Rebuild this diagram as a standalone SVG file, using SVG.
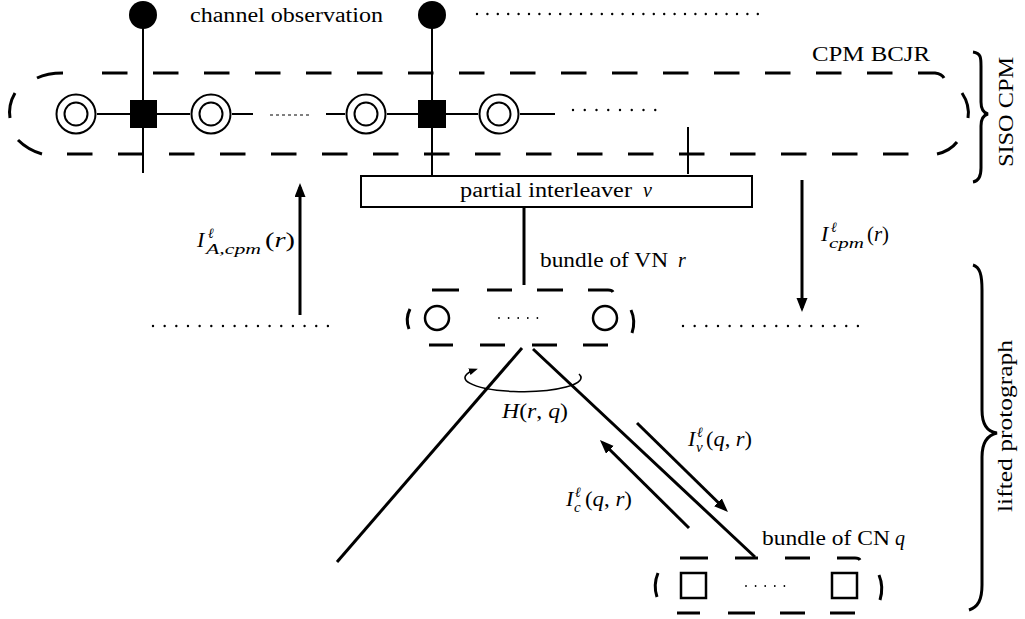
<svg xmlns="http://www.w3.org/2000/svg" width="1025" height="619" viewBox="0 0 1025 619">
<style>
.t{font-family:"Liberation Serif","Times New Roman",serif;font-size:20px;fill:#000}
.m{font-family:"Liberation Serif","Times New Roman",serif;font-style:italic;fill:#000}
.thin{stroke:#000;stroke-width:2;fill:none}
.thick{stroke:#000;stroke-width:3;fill:none}
.dash{stroke:#000;stroke-width:3;fill:none;stroke-dasharray:25.5 25.5}
.dots{stroke:#000;stroke-width:2.4;fill:none;stroke-linecap:round}
.sdots{stroke:#000;stroke-width:1.8;fill:none;stroke-linecap:round;stroke-dasharray:0 9.6}
</style>
<defs>
<marker id="ah" markerUnits="userSpaceOnUse" markerWidth="16" markerHeight="12" refX="10" refY="5.5" orient="auto">
<path d="M0,0 L14,5.5 L0,11 z" fill="#000"/>
</marker>
<marker id="ahs" markerUnits="userSpaceOnUse" markerWidth="10" markerHeight="8" refX="6" refY="3.5" orient="auto">
<path d="M0,0 L9,3.5 L0,7 z" fill="#000"/>
</marker>
</defs>
<rect width="1025" height="619" fill="#fff"/>

<g id="connectors">
<line class="thin" x1="143" y1="28" x2="143" y2="173"/>
<line class="thin" x1="432" y1="28" x2="432" y2="176"/>
<line class="thin" x1="688" y1="127" x2="688" y2="174"/>
<path class="thin" d="M97 114H130M157 114H190M232 114H253M326 114H345M387 114H418M446 114H478M520 114H555"/>
<line x1="270" y1="115" x2="312" y2="115" stroke="#000" stroke-width="1" stroke-dasharray="3 3"/>
<line class="dots" x1="573" y1="110" x2="667" y2="110" stroke-dasharray="0 11.75"/>
<line class="dots" x1="477" y1="14" x2="758" y2="14" stroke-dasharray="0 10.4"/>
<line class="thick" x1="524" y1="207" x2="524" y2="285" stroke-width="2.5"/>
<line class="thick" x1="300" y1="315" x2="300" y2="187" marker-end="url(#ah)"/>
<line class="thick" x1="802" y1="180" x2="802" y2="308" marker-end="url(#ah)"/>
<line class="dots" x1="153" y1="326" x2="328" y2="326" stroke-dasharray="0 11.66"/>
<line class="dots" x1="683" y1="326" x2="858" y2="326" stroke-dasharray="0 11.66"/>
<line class="thick" x1="522" y1="348" x2="337" y2="562"/>
<line class="thick" x1="533" y1="349" x2="755" y2="557"/>
<path d="M579 374 A58 14 0 1 1 475 369.8" stroke="#000" stroke-width="1.6" fill="none" marker-end="url(#ahs)"/>
<line class="thick" x1="637" y1="423" x2="725.1" y2="509.2" marker-end="url(#ah)"/>
<line class="thick" x1="689" y1="528" x2="602.8" y2="442.8" marker-end="url(#ah)"/>
</g>

<g id="cpm-bcjr">
<line class="dash" x1="102" y1="73" x2="893" y2="73"/>
<path class="thick" d="M37 78Q47 73 63 73"/>
<path class="thick" d="M918 73H935Q942 74 944 78"/>
<path class="thick" d="M15 93Q8 105 10 118"/>
<path class="thick" d="M18 140Q28 150 42 154"/>
<line class="dash" x1="67" y1="154" x2="909" y2="154"/>
<path class="thick" d="M937 154Q950 151 957 142"/>
<path class="thick" d="M962 93Q970 105 968 118"/>
<text class="t" x="812" y="61" textLength="118" lengthAdjust="spacingAndGlyphs">CPM BCJR</text>
</g>

<g id="obs1"><circle cx="143" cy="15" r="14" fill="#000"/></g>
<g id="obs2"><circle cx="432" cy="15" r="14" fill="#000"/></g>
<text class="t" x="190" y="22" textLength="193" lengthAdjust="spacingAndGlyphs">channel observation</text>

<g id="s1"><circle cx="76" cy="114" r="19.5" class="thin"/><circle cx="76" cy="114" r="11.5" class="thin"/></g>
<g id="f1"><rect x="130" y="100" width="27" height="28" fill="#000"/></g>
<g id="s2"><circle cx="211" cy="114" r="19.5" class="thin"/><circle cx="211" cy="114" r="11.5" class="thin"/></g>
<g id="s3"><circle cx="366" cy="114" r="19.5" class="thin"/><circle cx="366" cy="114" r="11.5" class="thin"/></g>
<g id="f2"><rect x="418" y="100" width="28" height="28" fill="#000"/></g>
<g id="s4"><circle cx="499" cy="114" r="19.5" class="thin"/><circle cx="499" cy="114" r="11.5" class="thin"/></g>

<g id="interleaver">
<rect x="361" y="176" width="391" height="31" class="thin"/>
<text class="t" x="460" y="197" textLength="172" lengthAdjust="spacingAndGlyphs">partial interleaver</text>
<text class="m" x="643" y="197" font-size="20">v</text>
</g>

<g id="vn-bundle">
<path class="thick" d="M432 290H459M487 290H512M537 290H563M588 290H608Q612 290 613 292"/>
<path class="thick" d="M429 345H453M480 345H505M532 345H557M583 345H608"/>
<path class="thick" d="M410 309Q405 319 409 329"/>
<path class="thick" d="M631 310Q636 321 632 333"/>
<circle cx="437" cy="318" r="12" stroke="#000" stroke-width="2.5" fill="none"/>
<circle cx="605" cy="318" r="12" stroke="#000" stroke-width="2.5" fill="none"/>
<line class="sdots" x1="499" y1="318" x2="538" y2="318"/>
<text class="t" x="540" y="267" textLength="128" lengthAdjust="spacingAndGlyphs">bundle of VN</text>
<text class="m" x="678" y="267" font-size="20">r</text>
</g>

<g id="cn-bundle">
<path class="thick" d="M680 558H708M735 558H758M785 558H810M837 558H855Q859 558 860 560"/>
<path class="thick" d="M677 613H700M728 613H755M780 613H805M830 613H855"/>
<path class="thick" d="M658 573Q653 585 657 597"/>
<path class="thick" d="M879 575Q884 587 880 600"/>
<rect x="681" y="573" width="25" height="25" stroke="#000" stroke-width="2.5" fill="none"/>
<rect x="832" y="573" width="25" height="25" stroke="#000" stroke-width="2.5" fill="none"/>
<line class="sdots" x1="746" y1="586" x2="785" y2="586"/>
<text class="t" x="762" y="545" textLength="128" lengthAdjust="spacingAndGlyphs">bundle of CN</text>
<text class="m" x="895" y="545" font-size="20">q</text>
</g>

<g id="labels">
<text class="m" font-size="22" x="197" y="247">I</text>
<text class="m" font-size="14" x="208" y="238">ℓ</text>
<text class="m" font-size="15" x="206" y="254" textLength="55" lengthAdjust="spacingAndGlyphs">A,cpm</text>
<text class="t" font-size="21" x="265" y="247" textLength="30" lengthAdjust="spacingAndGlyphs">(<tspan font-style="italic">r</tspan>)</text>

<text class="m" font-size="22" x="821" y="241">I</text>
<text class="m" font-size="14" x="831" y="232">ℓ</text>
<text class="m" font-size="15" x="829" y="248" textLength="35" lengthAdjust="spacingAndGlyphs">cpm</text>
<text class="t" font-size="21" x="867" y="241" textLength="22" lengthAdjust="spacingAndGlyphs">(<tspan font-style="italic">r</tspan>)</text>

<text class="m" font-size="22" x="688" y="446">I</text>
<text class="m" font-size="14" x="697" y="437">ℓ</text>
<text class="m" font-size="15" x="696" y="452">v</text>
<text class="t" font-size="21" x="706" y="446" textLength="46" lengthAdjust="spacingAndGlyphs">(<tspan font-style="italic">q</tspan>, <tspan font-style="italic">r</tspan>)</text>

<text class="m" font-size="22" x="566" y="506">I</text>
<text class="m" font-size="14" x="575" y="497">ℓ</text>
<text class="m" font-size="15" x="574" y="512">c</text>
<text class="t" font-size="21" x="585" y="506" textLength="47" lengthAdjust="spacingAndGlyphs">(<tspan font-style="italic">q</tspan>, <tspan font-style="italic">r</tspan>)</text>

<text class="t" font-size="21" x="502" y="418" textLength="66" lengthAdjust="spacingAndGlyphs"><tspan font-style="italic">H</tspan>(<tspan font-style="italic">r</tspan>, <tspan font-style="italic">q</tspan>)</text>
</g>

<g id="siso-brace">
<path class="thick" stroke-width="2.5" d="M973 52C981 53 981 58 981 66L981 102C981 110 984 113 988 114C984 115 981 118 981 126L981 168C981 176 979 181 973 182"/>
<text class="t" transform="translate(1013 112) rotate(-90)" text-anchor="middle" textLength="110" lengthAdjust="spacingAndGlyphs">SISO CPM</text>
</g>

<g id="lifted-brace">
<path class="thick" stroke-width="2.5" d="M973 265C980 267 982 275 982 290L982 410C982 425 988 432 997 433C988 435 982 442 982 457L982 585C982 600 978 607 969 610"/>
<text class="t" transform="translate(1012 426) rotate(-90)" text-anchor="middle" textLength="172" lengthAdjust="spacingAndGlyphs">lifted protograph</text>
</g>
</svg>
